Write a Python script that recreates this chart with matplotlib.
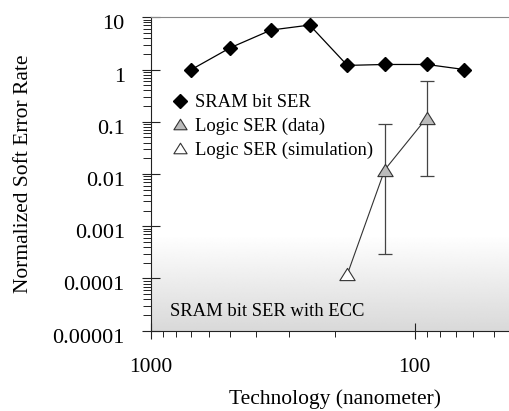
import numpy as np
import matplotlib
matplotlib.use("Agg")
import matplotlib.pyplot as plt
from matplotlib.lines import Line2D
from matplotlib.path import Path
from matplotlib.ticker import FixedLocator, FixedFormatter, NullFormatter
from matplotlib.transforms import ScaledTranslation

plt.rcParams['font.family'] = ['Liberation Serif', 'DejaVu Serif']

# Technology nodes (nm) and normalized soft error rates
sram_nodes = [700, 500, 350, 250, 180, 130, 90, 65]
sram_ser = [1.0, 2.6, 5.7, 7.1, 1.2, 1.25, 1.25, 1.0]

logic_sim_node = [180]
logic_sim_ser = [1.2e-4]

logic_data_nodes = [130, 90]
logic_data_ser = [0.012, 0.12]
logic_data_low = [0.0003, 0.009]
logic_data_high = [0.09, 0.6]

logic_line_nodes = logic_sim_node + logic_data_nodes
logic_line_ser = logic_sim_ser + logic_data_ser

y_ticks = [1e1, 1e0, 1e-1, 1e-2, 1e-3, 1e-4, 1e-5]
y_tick_labels = ['10', '1', '0.1', '0.01', '0.001', '0.0001', '0.00001']
x_ticks = [1000, 100]
x_tick_labels = ['1000', '100']

W, H = 509, 411
fig = plt.figure(figsize=(W / 100, H / 100), dpi=100)
x0, x1 = 150.5, 520.0
y_top, y_bot = 17.3, 330.7
ax = fig.add_axes([x0 / W, (H - y_bot) / H, (x1 - x0) / W, (y_bot - y_top) / H])

ax.set_xscale('log')
ax.set_yscale('log')

# shaded band near the bottom of the plot
grad = np.linspace(0.85, 1.0, 256).reshape(-1, 1)
ax.imshow(np.repeat(grad, 2, axis=1), cmap='gray', vmin=0, vmax=1,
          extent=[0, 1, 0, 0.305], transform=ax.transAxes, aspect='auto',
          origin='lower', zorder=0, interpolation='bilinear')

# closed, slightly flattened triangle marker
tri = Path([(-1, -0.8), (1, -0.8), (0, 0.8), (-1, -0.8)],
           [Path.MOVETO, Path.LINETO, Path.LINETO, Path.CLOSEPOLY])

# SRAM
ax.plot(sram_nodes, sram_ser, color='black', lw=0.9, marker='D', ms=6.8,
        mfc='black', mec='black', zorder=3)

# Logic SER line
ax.plot(logic_line_nodes, logic_line_ser, color='#333333', lw=0.8, zorder=2)
yerr = [np.array(logic_data_ser) - np.array(logic_data_low),
        np.array(logic_data_high) - np.array(logic_data_ser)]
ax.errorbar(logic_data_nodes, logic_data_ser, yerr=yerr, fmt='none',
            ecolor='#444444', elinewidth=0.9, capsize=5, capthick=0.9, zorder=2)
ax.plot(logic_data_nodes, logic_data_ser, ls='none', marker=tri, ms=11,
        mfc='#bbbbbb', mec='#333333', mew=0.8, zorder=4)
ax.plot(logic_sim_node, logic_sim_ser, ls='none', marker=tri, ms=11,
        mfc='white', mec='#333333', mew=0.8, zorder=4)

ax.set_xlim(1000, 40)
ax.set_ylim(1e-5, 10)

# axes styling
ax.spines['right'].set_visible(False)
ax.spines['top'].set_color('#888888')
ax.spines['left'].set_color('#222222')
ax.spines['bottom'].set_color('#222222')

ax.yaxis.set_major_locator(FixedLocator(y_ticks))
ax.yaxis.set_major_formatter(FixedFormatter(y_tick_labels))
ax.yaxis.set_minor_locator(FixedLocator(
    [m * 10.0 ** e for e in range(-5, 1) for m in range(2, 10)]))
ax.yaxis.set_minor_formatter(NullFormatter())
ax.xaxis.set_major_locator(FixedLocator(x_ticks))
ax.xaxis.set_major_formatter(FixedFormatter(x_tick_labels))
ax.xaxis.set_minor_locator(FixedLocator(
    [m * 10.0 ** e for e in range(1, 3) for m in range(2, 10)]))
ax.xaxis.set_minor_formatter(NullFormatter())

ax.tick_params(axis='y', which='major', direction='inout', length=13, width=0.8,
               labelsize=16, pad=12, color='#222222')
ax.tick_params(axis='y', which='minor', direction='out', length=5.5, width=0.7,
               color='#222222')
ax.tick_params(axis='x', which='major', direction='inout', length=11.5, width=0.8,
               labelsize=15.5, pad=14, color='#222222')
ax.tick_params(axis='x', which='minor', direction='out', length=4.3, width=0.7,
               color='#222222')
ax.tick_params(top=False, right=False, which='both')

for lab in ax.get_yticklabels():
    lab.set_transform(lab.get_transform() + ScaledTranslation(0, -5 / 100, fig.dpi_scale_trans))

ax.set_ylabel('Normalized Soft Error Rate', fontsize=15.5, labelpad=14)
ax.set_xlabel('Technology (nanometer)', fontsize=15.5, labelpad=9)

ax.text(0.0528, 0.0606, 'SRAM bit SER with ECC', transform=ax.transAxes,
        fontsize=13.4, va='center', ha='left', zorder=5)

handles = [
    Line2D([], [], ls='none', marker='D', ms=6.8, mfc='black', mec='black'),
    Line2D([], [], ls='none', marker=tri, ms=9.5, mfc='#bbbbbb', mec='#333333', mew=0.8),
    Line2D([], [], ls='none', marker=tri, ms=9.5, mfc='white', mec='#333333', mew=0.8),
]
labels = ['SRAM bit SER', 'Logic SER (data)', 'Logic SER (simulation)']
ax.legend(handles, labels, loc='upper left', bbox_to_anchor=(0.06, 0.755),
          frameon=False, fontsize=13.4, handlelength=0.8, handletextpad=0.4,
          labelspacing=0.35, borderpad=0, borderaxespad=0)

fig.savefig('out.png', dpi=100)
